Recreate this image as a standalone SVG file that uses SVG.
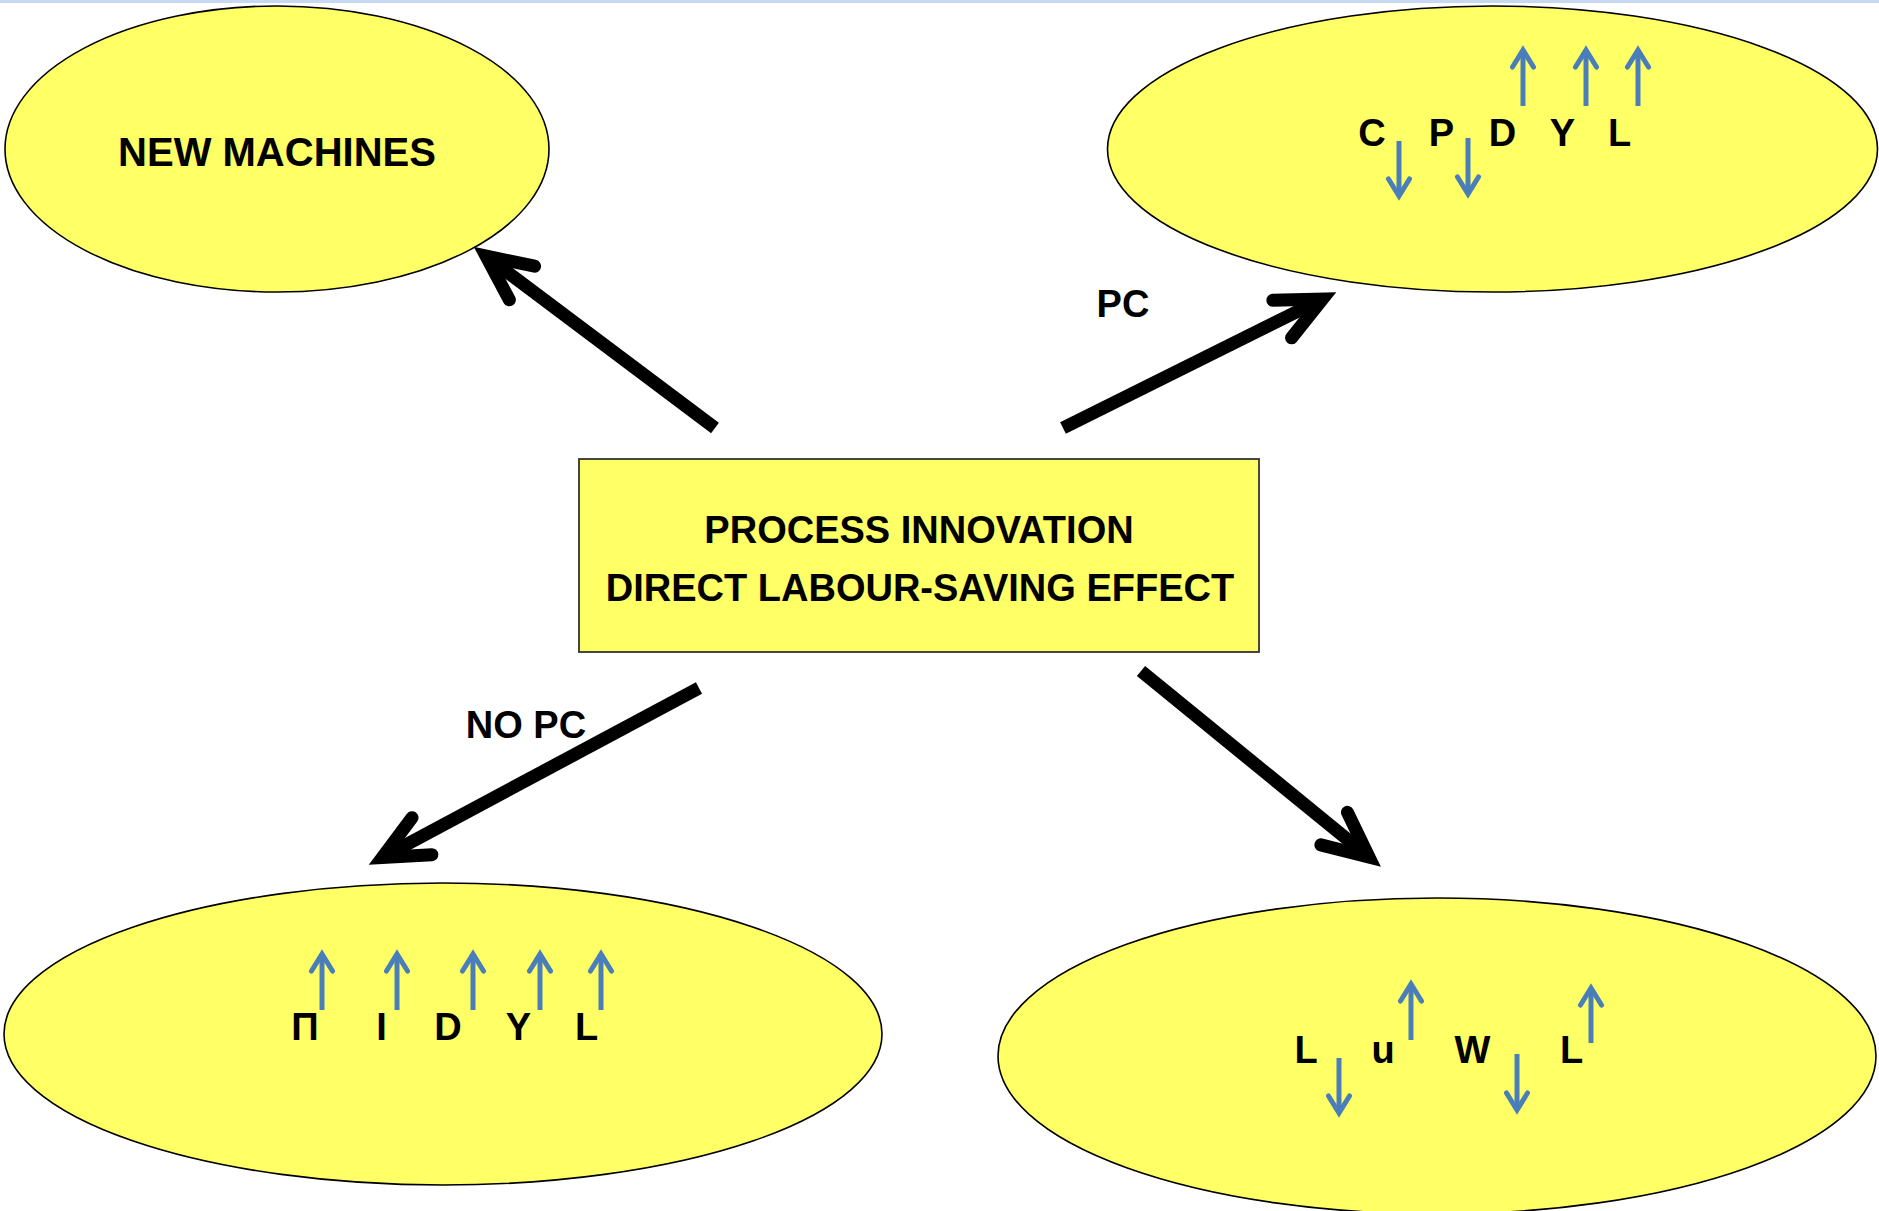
<svg xmlns="http://www.w3.org/2000/svg" width="1879" height="1211" viewBox="0 0 1879 1211">
  <style>
    .node { fill: #ffff66; stroke: #000; stroke-width: 1.6; }
    .box { fill: #ffff66; stroke: #333; stroke-width: 1.8; }
    .t { font-family: "Liberation Sans", Arial, sans-serif; font-weight: bold; fill: #000; text-anchor: middle; }
    .conn { stroke: #000; stroke-width: 13; fill: none; stroke-linecap: butt; marker-end: url(#bigHead); }
    .blue { stroke: #4a7ebb; stroke-width: 5; fill: none; stroke-linecap: butt; marker-end: url(#smallHead); }
  </style>
  <defs>
    <marker id="bigHead" markerUnits="userSpaceOnUse" orient="auto" markerWidth="120" markerHeight="120" refX="0" refY="0" viewBox="-60 -60 120 120" overflow="visible">
      <path d="M-45,-21 L0,0 L-45,21" fill="none" stroke="#000" stroke-width="13" stroke-linejoin="miter" stroke-linecap="round" stroke-miterlimit="10"/>
    </marker>
    <marker id="smallHead" markerUnits="userSpaceOnUse" orient="auto" markerWidth="40" markerHeight="40" refX="0" refY="0" viewBox="-20 -20 40 40" overflow="visible">
      <path d="M-17,-10.5 L0,0 L-17,10.5" fill="none" stroke="#4a7ebb" stroke-width="5" stroke-linejoin="miter" stroke-linecap="round" stroke-miterlimit="10"/>
    </marker>
  </defs>

  <rect x="0" y="0" width="1879" height="3" fill="#c6d9f0"/>

  <g id="new-machines">
    <ellipse class="node" cx="277" cy="149" rx="272" ry="143"/>
    <text class="t" x="277" y="166" font-size="40">NEW MACHINES</text>
  </g>

  <g id="pc-effects">
    <ellipse class="node" cx="1492.5" cy="149" rx="385" ry="143"/>
    <g font-size="38">
      <text class="t" x="1372" y="146">C</text>
      <text class="t" x="1441.5" y="146">P</text>
      <text class="t" x="1502.5" y="146">D</text>
      <text class="t" x="1562.5" y="146">Y</text>
      <text class="t" x="1619.5" y="146">L</text>
    </g>
    <line class="blue" x1="1399" y1="141" x2="1399" y2="196"/>
    <line class="blue" x1="1468" y1="138" x2="1468" y2="194"/>
    <line class="blue" x1="1523" y1="106" x2="1523" y2="50"/>
    <line class="blue" x1="1586" y1="106" x2="1586" y2="50"/>
    <line class="blue" x1="1638" y1="106" x2="1638" y2="50"/>
  </g>

  <g id="process-innovation">
    <rect class="box" x="579" y="459" width="680" height="193"/>
    <text class="t" x="919" y="543" font-size="38">PROCESS INNOVATION</text>
    <text class="t" x="920" y="601" font-size="38">DIRECT LABOUR-SAVING EFFECT</text>
  </g>

  <g id="no-pc-effects">
    <ellipse class="node" cx="443" cy="1034" rx="439" ry="151"/>
    <g font-size="38">
      <text class="t" x="305" y="1040">Π</text>
      <text class="t" x="381.5" y="1040">I</text>
      <text class="t" x="448" y="1040">D</text>
      <text class="t" x="518.5" y="1040">Y</text>
      <text class="t" x="586.5" y="1040">L</text>
    </g>
    <line class="blue" x1="322" y1="1010" x2="322" y2="954"/>
    <line class="blue" x1="397" y1="1010" x2="397" y2="954"/>
    <line class="blue" x1="473" y1="1010" x2="473" y2="954"/>
    <line class="blue" x1="540" y1="1010" x2="540" y2="954"/>
    <line class="blue" x1="601" y1="1010" x2="601" y2="954"/>
  </g>

  <g id="labour-market">
    <ellipse class="node" cx="1437" cy="1056" rx="439" ry="158"/>
    <g font-size="38">
      <text class="t" x="1306" y="1063">L</text>
      <text class="t" x="1383" y="1063">u</text>
      <text class="t" x="1472.5" y="1063">W</text>
      <text class="t" x="1571.5" y="1063">L</text>
    </g>
    <line class="blue" x1="1339" y1="1058" x2="1339" y2="1113"/>
    <line class="blue" x1="1411" y1="1040" x2="1411" y2="984"/>
    <line class="blue" x1="1517" y1="1054" x2="1517" y2="1110"/>
    <line class="blue" x1="1591" y1="1043" x2="1591" y2="988"/>
  </g>

  <g id="connectors">
    <line class="conn" x1="715" y1="428" x2="486" y2="256"/>
    <line class="conn" x1="1063" y1="428" x2="1322.5" y2="299"/>
    <line class="conn" x1="699" y1="688" x2="382.3" y2="857.4"/>
    <line class="conn" x1="1141" y1="671" x2="1369" y2="857"/>
    <text class="t" x="1123" y="317" font-size="38">PC</text>
    <text class="t" x="526" y="738" font-size="38">NO PC</text>
  </g>
</svg>
